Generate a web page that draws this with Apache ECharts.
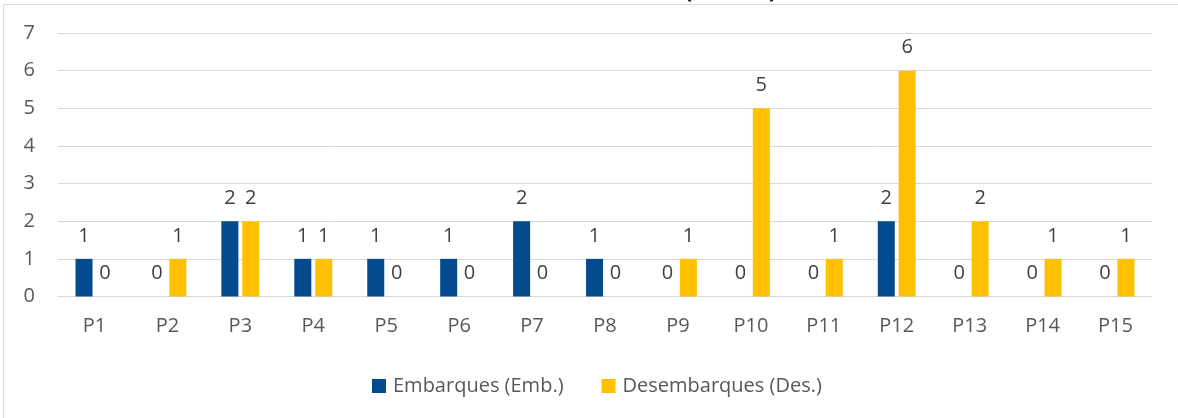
<!DOCTYPE html>
<html>
<head>
<meta charset="utf-8">
<script src="https://cdn.jsdelivr.net/npm/echarts@6/dist/echarts.min.js"></script>
<style>html,body{margin:0;padding:0;background:#fff;}#c{width:1178px;height:418px;}</style>
</head>
<body>
<div id="c"></div>
<script>
var categories = ['P1','P2','P3','P4','P5','P6','P7','P8','P9','P10','P11','P12','P13','P14','P15'];
var embarques = [1,0,2,1,1,1,2,1,0,0,0,2,0,0,0];
var desembarques = [0,1,2,1,0,0,0,0,1,5,1,6,2,1,1];
var seriesNames = ['Embarques (Emb.)','Desembarques (Des.)'];
var titleText = 'Total de Movimientos (Ruta 1)';

var chart = echarts.init(document.getElementById('c'), null, {renderer:'canvas'});
var font = '"Open Sans", sans-serif';
var lbl = {show:true, position:'top', distance:13, fontSize:20, color:'#404040', fontFamily:font};
chart.setOption({
  animation:false,
  backgroundColor:'#fff',
  graphic:[
    {type:'rect', shape:{x:3.5,y:4.5,width:1300,height:1000}, style:{fill:'none',stroke:'#d9d9d9',lineWidth:1}, z:-1},
    {type:'text', x:777, y:-21, z:10, style:{text:titleText, align:'right', verticalAlign:'top', font:'bold 24px "Open Sans", sans-serif', fill:'#1a1a1a'}}
  ],
  grid:{left:58, right:26, top:33, bottom:121.5, containLabel:false},
  legend:{
    data:seriesNames, left:367, top:371, icon:'rect', itemWidth:14, itemHeight:14, itemGap:38,
    textStyle:{fontSize:20, color:'#595959', fontFamily:font, padding:[0,0,0,2]}
  },
  xAxis:{
    type:'category', data:categories,
    axisLine:{lineStyle:{color:'#d9d9d9', width:1}},
    axisTick:{show:false},
    axisLabel:{fontSize:20, color:'#595959', fontFamily:font, margin:20}
  },
  yAxis:{
    type:'value', min:0, max:7, interval:1,
    axisLine:{show:false}, axisTick:{show:false},
    splitLine:{lineStyle:{color:'#d9d9d9', width:1}},
    axisLabel:{fontSize:20, color:'#595959', fontFamily:font, margin:23}
  },
  series:[
    {name:seriesNames[0], type:'bar', data:embarques, barWidth:17, barGap:'23%', itemStyle:{color:'#044a8e'}, label:lbl},
    {name:seriesNames[1], type:'bar', data:desembarques, barWidth:17, itemStyle:{color:'#ffc000'}, label:lbl}
  ]
});
</script>
</body>
</html>
